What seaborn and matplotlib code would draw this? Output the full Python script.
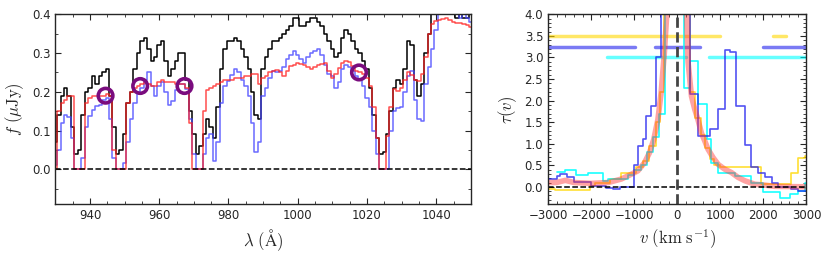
import numpy as np
import pandas as pd
import matplotlib
matplotlib.use("Agg")
import matplotlib.pyplot as plt
from matplotlib.ticker import MultipleLocator
import seaborn as sns

# ---------------- data: left panel (flux spectra) ----------------
wave = list(range(930, 1051))
flux_obs = [0.07, 0.14, 0.19, 0.21, 0.19, 0.11, 0.04, 0.05, 0.14, 0.20,
            0.21, 0.24, 0.22, 0.24, 0.25, 0.26, 0.19, 0.11, 0.04, 0.05,
            0.09, 0.17, 0.20, 0.26, 0.30, 0.33, 0.34, 0.31, 0.28, 0.29,
            0.32, 0.33, 0.28, 0.24, 0.26, 0.28, 0.30, 0.30, 0.23, 0.15,
            0.09, 0.04, 0.06, 0.09, 0.13, 0.11, 0.08, 0.16, 0.26, 0.31,
            0.33, 0.33, 0.34, 0.33, 0.31, 0.29, 0.26, 0.20, 0.14, 0.13,
            0.26, 0.29, 0.31, 0.33, 0.33, 0.34, 0.35, 0.36, 0.37, 0.39,
            0.39, 0.37, 0.37, 0.38, 0.39, 0.39, 0.38, 0.37, 0.35, 0.33,
            0.31, 0.29, 0.30, 0.34, 0.36, 0.35, 0.33, 0.31, 0.30, 0.28,
            0.26, 0.21, 0.14, 0.08, 0.04, 0.045, 0.09, 0.15, 0.21, 0.23,
            0.22, 0.26, 0.33, 0.32, 0.23, 0.19, 0.22, 0.30, 0.35, 0.40,
            0.42, 0.42, 0.41, 0.42, 0.41, 0.40, 0.39, 0.40, 0.39, 0.39,
            0.40]
flux_blue = [0.01, 0.05, 0.12, 0.14, 0.135, 0.08, 0.0, 0.0, 0.03, 0.11,
             0.137, 0.154, 0.163, 0.165, 0.18, 0.184, 0.13, 0.03, 0.0, 0.0,
             0.015, 0.07, 0.13, 0.17, 0.20, 0.21, 0.23, 0.25, 0.214, 0.19,
             0.215, 0.225, 0.20, 0.165, 0.175, 0.205, 0.22, 0.22, 0.206, 0.13,
             0.04, 0.0, 0.0, 0.04, 0.08, 0.09, 0.02, 0.07, 0.17, 0.214,
             0.227, 0.244, 0.26, 0.25, 0.23, 0.215, 0.19, 0.12, 0.045, 0.07,
             0.19, 0.21, 0.235, 0.255, 0.25, 0.255, 0.265, 0.285, 0.295, 0.305,
             0.295, 0.285, 0.275, 0.29, 0.30, 0.305, 0.31, 0.295, 0.27, 0.245,
             0.24, 0.21, 0.225, 0.26, 0.27, 0.265, 0.255, 0.24, 0.232, 0.215,
             0.185, 0.16, 0.10, 0.04, 0.0, 0.0, 0.0, 0.10, 0.15, 0.158,
             0.162, 0.20, 0.24, 0.255, 0.18, 0.13, 0.125, 0.22, 0.265, 0.31,
             0.36, 0.40, 0.41, 0.42, 0.41, 0.42, 0.41, 0.39, 0.40, 0.39,
             0.38]
flux_model = [0.0, 0.15, 0.17, 0.18, 0.19, 0.19, 0.0, 0.0, 0.0, 0.17,
              0.185, 0.19, 0.19, 0.19, 0.19, 0.195, 0.19, 0.05, 0.0, 0.0,
              0.0, 0.17, 0.20, 0.21, 0.215, 0.22, 0.225, 0.22, 0.215, 0.215,
              0.225, 0.23, 0.225, 0.225, 0.225, 0.22, 0.22, 0.22, 0.21, 0.12,
              0.0, 0.0, 0.0, 0.15, 0.205, 0.21, 0.215, 0.22, 0.225, 0.23,
              0.23, 0.23, 0.235, 0.235, 0.235, 0.24, 0.24, 0.245, 0.245, 0.22,
              0.235, 0.24, 0.25, 0.255, 0.257, 0.25, 0.24, 0.255, 0.266, 0.27,
              0.274, 0.272, 0.27, 0.265, 0.26, 0.265, 0.27, 0.272, 0.274, 0.255,
              0.236, 0.245, 0.262, 0.274, 0.28, 0.278, 0.266, 0.255, 0.25, 0.245,
              0.235, 0.215, 0.16, 0.08, 0.0, 0.0, 0.086, 0.16, 0.206, 0.203,
              0.21, 0.23, 0.25, 0.244, 0.23, 0.227, 0.245, 0.29, 0.35, 0.375,
              0.383, 0.386, 0.388, 0.39, 0.385, 0.38, 0.378, 0.377, 0.375, 0.372,
              0.368]
circle_wave = [944.5, 954.5, 967.3, 1017.7]
circle_flux = [0.19, 0.215, 0.215, 0.25]

# ---------------- data: right panel (optical depth) ----------------
v_blue = [-3000, -2800, -2720, -2550, -2400, -2000, -1650, -1500, -1340, -1000,
          -920, -800, -720, -620, -500, -370, 290, 480, 750, 950,
          1100, 1220, 1370, 1570, 1720, 1880, 2030, 2190, 2340, 2650,
          2800, 3000]
tau_blue = [0.18, 0.24, 0.30, 0.22, 0.12, 0.02, -0.02, -0.06, 0.0, 0.5,
            0.95, 1.1, 1.65, 1.88, 3.0, 4.6, 2.15, 1.18, 1.33, 1.8,
            3.18, 3.12, 1.87, 0.98, 0.45, 0.33, 0.22, 0.1, -0.01, -0.05,
            -0.09, -0.09]
v_gold = [-3000, -2850, -2030, -1920, -1570, -1300, -950, -800, -650, -500,
          -400, -300, 300, 420, 540, 650, 750, 850, 1000, 1850,
          1950, 2650, 2800, 2960, 3000]
tau_gold = [-0.05, -0.08, 0.02, 0.1, 0.18, 0.33, 0.45, 0.6, 0.95, 1.5,
            2.2, 4.6, 2.2, 1.6, 1.2, 0.9, 0.65, 0.5, 0.47, 0.45,
            0.06, 0.33, 0.68, 0.72, 0.72]
v_cyan = [-2790, -2610, -2340, -2070, -1720, -1600, -1150, -1000, -850, -700,
          -560, -420, -280, 150, 290, 480, 680, 790, 950, 1350,
          1720, 1990, 2380, 2610, 2800, 2960, 3000]
tau_cyan = [0.35, 0.39, 0.28, 0.33, 0.14, 0.18, 0.28, 0.38, 0.5, 0.8,
            1.15, 1.7, 4.6, 2.3, 2.92, 1.92, 1.1, 0.56, 0.33, 0.25,
            0.1, -0.13, -0.26, -0.17, -0.1, 0.1, 0.1]
v_model = [-3000, -2800, -2600, -2400, -2000, -1600, -1300, -1070, -915, -760,
           -645, -545, -450, -375, -300, -237, 210, 250, 330, 405,
           480, 560, 640, 715, 830, 950, 1100, 1260, 1410, 1570,
           1800, 2030, 2260, 3000]
tau_model = [0.1, 0.1, 0.15, 0.1, 0.08, 0.1, 0.18, 0.29, 0.37, 0.56,
             0.79, 1.1, 1.56, 2.18, 3.1, 4.1, 4.1, 2.9, 2.1, 1.8,
             1.56, 1.25, 1.06, 0.87, 0.68, 0.52, 0.41, 0.33, 0.22, 0.14,
             0.06, 0.04, 0.01, 0.0]
bar_gold = [(-3000, 1000), (2220, 2530)]
bar_blue = [(-3000, -980), (-520, 530), (1990, 3000)]
bar_cyan = [(-1620, 210), (740, 3000)]

# ---------------- style ----------------
sns.set_style("ticks")
plt.rcParams.update({
    "font.family": ["DejaVu Sans"],
    "mathtext.fontset": "cm",
    "xtick.direction": "in", "ytick.direction": "in",
    "xtick.top": True, "ytick.right": True,
    "xtick.minor.visible": True, "ytick.minor.visible": True,
    "xtick.major.size": 4, "ytick.major.size": 4,
    "xtick.minor.size": 2, "ytick.minor.size": 2,
    "xtick.labelsize": 8.5, "ytick.labelsize": 8.5,
    "axes.linewidth": 1.0,
})

fig = plt.figure(figsize=(8.31, 2.57), dpi=100)
ax1 = fig.add_axes([0.0666, 0.206, 0.5, 0.738])
ax2 = fig.add_axes([0.6595, 0.206, 0.311, 0.738])

df = pd.DataFrame({"wave": wave, "obs": flux_obs, "blue": flux_blue, "model": flux_model})
sns.lineplot(data=df, x="wave", y="obs", ax=ax1, color="black", lw=1.1,
             drawstyle="steps-mid", estimator=None, sort=False)
sns.lineplot(data=df, x="wave", y="blue", ax=ax1, color="#4444ff", alpha=0.8, lw=1.1,
             drawstyle="steps-mid", estimator=None, sort=False)
sns.lineplot(data=df, x="wave", y="model", ax=ax1, color="#ff2222", alpha=0.8, lw=1.1,
             drawstyle="steps-mid", estimator=None, sort=False)
ax1.axhline(0, color="black", ls="--", lw=1.1)
sns.scatterplot(x=circle_wave, y=circle_flux, ax=ax1, s=110, facecolor="none",
                edgecolor="#7a0c7e", linewidth=2.6, zorder=5)
ax1.set_xlim(930, 1050)
ax1.set_ylim(-0.09, 0.4)
ax1.xaxis.set_major_locator(MultipleLocator(20))
ax1.xaxis.set_minor_locator(MultipleLocator(5))
ax1.yaxis.set_major_locator(MultipleLocator(0.1))
ax1.yaxis.set_minor_locator(MultipleLocator(0.05))
ax1.set_xlabel(r"$\lambda\ (\mathrm{\AA})$", fontsize=12)
ax1.set_ylabel(r"$f\ (\mu\mathrm{Jy})$", fontsize=12)

# right panel
for (a, b) in bar_gold:
    ax2.plot([a, b], [3.5, 3.5], color="gold", lw=2.5, alpha=0.6)
for (a, b) in bar_blue:
    ax2.plot([a, b], [3.25, 3.25], color="#2222ee", lw=2.5, alpha=0.6)
for (a, b) in bar_cyan:
    ax2.plot([a, b], [3.0, 3.0], color="cyan", lw=2.5, alpha=0.6)

sns.lineplot(x=v_gold, y=tau_gold, ax=ax2, color="gold", lw=1.2, alpha=0.8,
             drawstyle="steps-post", estimator=None, sort=False)
sns.lineplot(x=v_cyan, y=tau_cyan, ax=ax2, color="cyan", lw=1.2, alpha=0.9,
             drawstyle="steps-post", estimator=None, sort=False)
sns.lineplot(x=v_blue, y=tau_blue, ax=ax2, color="#1a1aee", lw=1.2, alpha=0.75,
             drawstyle="steps-post", estimator=None, sort=False)
sns.lineplot(x=v_model, y=tau_model, ax=ax2, color="#ff3333", lw=4, alpha=0.45,
             estimator=None, sort=False)
ax2.axhline(0, color="black", ls="--", lw=1.1)
ax2.axvline(0, color="#444444", ls="--", lw=2)
ax2.set_xlim(-3000, 3000)
ax2.set_ylim(-0.4, 4.0)
ax2.xaxis.set_major_locator(MultipleLocator(1000))
ax2.xaxis.set_minor_locator(MultipleLocator(200))
ax2.yaxis.set_major_locator(MultipleLocator(0.5))
ax2.yaxis.set_minor_locator(MultipleLocator(0.1))
ax2.set_xlabel(r"$v\ (\mathrm{km\ s^{-1}})$", fontsize=12)
ax2.set_ylabel(r"$\tau(v)$", fontsize=12)

fig.savefig("out.png", dpi=100)
